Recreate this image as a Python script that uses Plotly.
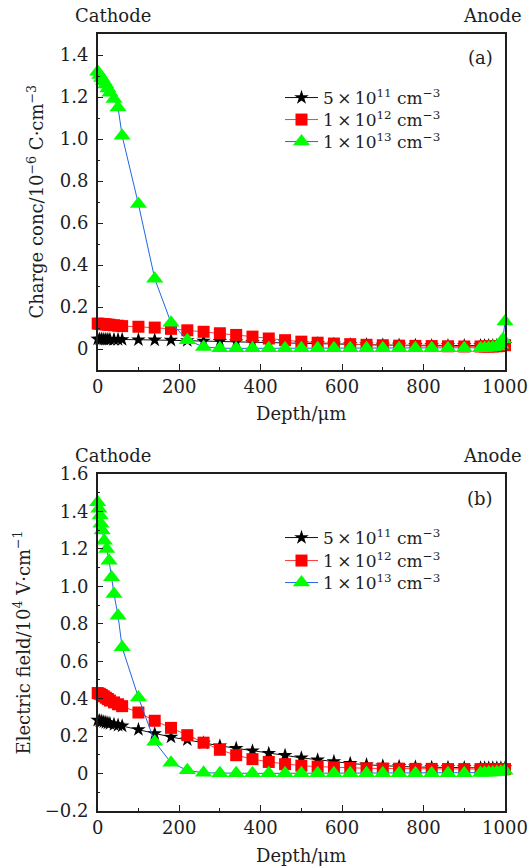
import plotly.graph_objects as go

W, H = 531, 867
FONT = "DejaVu Serif"
INK = "#1e1e1e"

# ---------------- data: (a) space charge concentration (10^-6 C/cm^3) ----------------
a_depth = [0, 5, 10, 15, 20, 25, 30, 40, 50, 60,
           100, 140, 180, 220, 260, 300, 340, 380, 420, 460, 500,
           540, 580, 620, 660, 700, 740, 780, 820, 860, 900,
           940, 950, 960, 970, 980, 990, 1000]
a_star = [0.047, 0.047, 0.047, 0.046, 0.046, 0.046, 0.046, 0.045, 0.045, 0.045,
          0.044, 0.043, 0.042, 0.040, 0.038, 0.036, 0.034, 0.032, 0.030, 0.029, 0.027,
          0.025, 0.023, 0.021, 0.020, 0.019, 0.018, 0.017, 0.016, 0.016, 0.016,
          0.016, 0.016, 0.016, 0.016, 0.017, 0.019, 0.022]
a_square = [0.121, 0.120, 0.119, 0.118, 0.117, 0.116, 0.115, 0.113, 0.111, 0.109,
            0.106, 0.102, 0.096, 0.089, 0.082, 0.075, 0.067, 0.059, 0.050, 0.042, 0.035,
            0.030, 0.026, 0.023, 0.020, 0.018, 0.016, 0.015, 0.014, 0.013, 0.012,
            0.012, 0.012, 0.012, 0.012, 0.013, 0.014, 0.018]
a_tri_depth = [0, 5, 10, 15, 20, 25, 30, 40, 50, 60,
               100, 140, 180, 220, 260, 300, 340, 380, 420, 460, 500,
               540, 580, 620, 660, 700, 740, 780, 820, 860, 900,
               940, 950, 960, 970, 980, 990, 995, 1000]
a_tri = [1.320, 1.305, 1.290, 1.275, 1.260, 1.240, 1.220, 1.190, 1.150, 1.015,
         0.690, 0.335, 0.125, 0.042, 0.010, 0.004, 0.003, 0.003, 0.003, 0.003, 0.003,
         0.003, 0.003, 0.003, 0.003, 0.003, 0.003, 0.003, 0.003, 0.003, 0.003,
         0.004, 0.005, 0.006, 0.008, 0.012, 0.020, 0.047, 0.131]

# ---------------- data: (b) electric field (10^4 V/cm) ----------------
b_depth = [0, 5, 10, 15, 20, 25, 30, 40, 50, 60,
           100, 140, 180, 220, 260, 300, 340, 380, 420, 460, 500,
           540, 580, 620, 660, 700, 740, 780, 820, 860, 900,
           940, 950, 960, 970, 980, 990, 1000]
b_star = [0.285, 0.282, 0.279, 0.276, 0.273, 0.270, 0.267, 0.262, 0.258, 0.254,
          0.235, 0.213, 0.195, 0.180, 0.163, 0.148, 0.135, 0.121, 0.108, 0.097, 0.084,
          0.073, 0.064, 0.054, 0.047, 0.041, 0.038, 0.035, 0.033, 0.032, 0.031,
          0.030, 0.030, 0.030, 0.030, 0.030, 0.030, 0.030]
b_square = [0.430, 0.426, 0.420, 0.413, 0.405, 0.398, 0.390, 0.380, 0.370, 0.360,
            0.326, 0.282, 0.244, 0.205, 0.165, 0.127, 0.098, 0.077, 0.062, 0.050, 0.042,
            0.037, 0.033, 0.030, 0.028, 0.027, 0.026, 0.025, 0.025, 0.024, 0.024,
            0.024, 0.024, 0.024, 0.024, 0.024, 0.024, 0.024]
b_tri_depth = [0, 3, 6, 8, 11, 16, 22, 28, 34, 40, 50, 60,
               100, 140, 180, 220, 260, 300, 340, 380, 420, 460, 500,
               540, 580, 620, 660, 700, 740, 780, 820, 860, 900,
               940, 950, 960, 970, 980, 990, 1000]
b_tri = [1.449, 1.414, 1.378, 1.334, 1.298, 1.244, 1.200, 1.137, 1.048, 0.959, 0.843, 0.674,
         0.406, 0.170, 0.058, 0.017, 0.004, 0.002, 0.001, 0.001, 0.001, 0.001, 0.001,
         0.001, 0.001, 0.001, 0.001, 0.001, 0.001, 0.001, 0.001, 0.001, 0.001,
         0.003, 0.004, 0.005, 0.006, 0.008, 0.010, 0.015]

series_names = ["5\u2009\u00d7\u200910<sup>11</sup> cm<sup>\u22123</sup>",
                "1\u2009\u00d7\u200910<sup>12</sup> cm<sup>\u22123</sup>",
                "1\u2009\u00d7\u200910<sup>13</sup> cm<sup>\u22123</sup>"]

x_ticks = [0, 200, 400, 600, 800, 1000]
a_yticks = [0, 0.2, 0.4, 0.6, 0.8, 1.0, 1.2, 1.4]
a_ytext = ["0", "0.2", "0.4", "0.6", "0.8", "1.0", "1.2", "1.4"]
b_yticks = [-0.2, 0, 0.2, 0.4, 0.6, 0.8, 1.0, 1.2, 1.4, 1.6]
b_ytext = ["\u22120.2", "0", "0.2", "0.4", "0.6", "0.8", "1.0", "1.2", "1.4", "1.6"]


def px(x):
    return x / W


def py(y):
    return 1 - y / H


styles = [
    dict(symbol="star", size=11, color="#000000", line="#111111"),
    dict(symbol="square", size=12, color="#ff0000", line="#ff3a3a"),
    dict(symbol="triangle-up", size=15, color="#00ff00", line="#1f66e5"),
]

fig = go.Figure()

panels = [
    dict(xa="x", ya="y", data=[(a_depth, a_star), (a_depth, a_square), (a_tri_depth, a_tri)],
         legends=["legend", "legend2", "legend3"]),
    dict(xa="x2", ya="y2", data=[(b_depth, b_star), (b_depth, b_square), (b_tri_depth, b_tri)],
         legends=["legend4", "legend5", "legend6"]),
]

for p in panels:
    for (xs, ys), st, name, lg in zip(p["data"], styles, series_names, p["legends"]):
        fig.add_trace(go.Scatter(
            x=xs, y=ys, mode="lines+markers", name=name, showlegend=True,
            xaxis=p["xa"], yaxis=p["ya"], legend=lg, cliponaxis=False,
            line=dict(color=st["line"], width=1),
            marker=dict(symbol=st["symbol"], size=st["size"], color=st["color"],
                        line=dict(width=0)),
        ))

x_dom = [px(97.7), px(505)]
axis_common = dict(showline=True, linewidth=1.5, linecolor=INK, mirror=True,
                   showgrid=False, zeroline=False, automargin=False,
                   tickfont=dict(family=FONT, size=18, color=INK),
                   ticks="inside", ticklen=6, tickwidth=1.3, tickcolor=INK)

fig.update_layout(
    template="none",
    width=W, height=H,
    showlegend=True,
    margin=dict(l=0, r=0, t=0, b=0, autoexpand=False),
    paper_bgcolor="white", plot_bgcolor="white",
    font=dict(family=FONT, size=18, color=INK),
    xaxis=dict(domain=x_dom, range=[0, 1000], anchor="y", tickvals=x_ticks,
               minor=dict(ticks="inside", ticklen=3, dtick=100, tick0=0, tickcolor=INK),
               **axis_common),
    yaxis=dict(domain=[py(370), py(34)], range=[-0.1, 1.5], anchor="x",
               tickvals=a_yticks, ticktext=a_ytext, ticklabelstandoff=4,
               minor=dict(ticks="inside", ticklen=3, dtick=0.1, tick0=0, tickcolor=INK),
               **axis_common),
    xaxis2=dict(domain=x_dom, range=[0, 1000], anchor="y2", tickvals=x_ticks,
                minor=dict(ticks="inside", ticklen=3, dtick=100, tick0=0, tickcolor=INK),
                **axis_common),
    yaxis2=dict(domain=[py(811), py(474)], range=[-0.2, 1.6], anchor="x2",
                tickvals=b_yticks, ticktext=b_ytext, ticklabelstandoff=4,
                minor=dict(ticks="inside", ticklen=3, dtick=0.1, tick0=0, tickcolor=INK),
                **axis_common),
)

# one legend box per entry so the rows sit at the wanted spacing
legend_rows = {"legend": 98, "legend2": 120, "legend3": 142,
               "legend4": 538, "legend5": 561, "legend6": 583}
for key, yrow in legend_rows.items():
    fig.update_layout({key: dict(x=px(280), y=py(yrow), xanchor="left", yanchor="middle",
                                 bgcolor="rgba(0,0,0,0)", borderwidth=0, itemwidth=33,
                                 visible=True,
                                 font=dict(family=FONT, size=17, color=INK))})

ann = []


def text(x, y, s, size=18, angle=0, xanchor="center"):
    ann.append(dict(x=px(x), y=py(y), xref="paper", yref="paper", text=s,
                    showarrow=False, xanchor=xanchor, yanchor="middle",
                    textangle=angle, font=dict(family=FONT, size=size, color=INK)))


text(113, 16, "Cathode")
text(492, 16, "Anode")
text(113, 455, "Cathode")
text(492, 455, "Anode")
text(480, 58, "(a)")
text(480, 498, "(b)")
text(301, 413, "Depth/\u03bcm")
text(301, 855, "Depth/\u03bcm")
text(35.6, 202, "Charge conc/10<sup>\u22126</sup> C\u00b7cm<sup>\u22123</sup>", angle=-90)
text(22.5, 643, "Electric field/10<sup>4</sup> V\u00b7cm<sup>\u22121</sup>", angle=-90)
fig.update_layout(annotations=ann)

fig.write_html("out.html")
